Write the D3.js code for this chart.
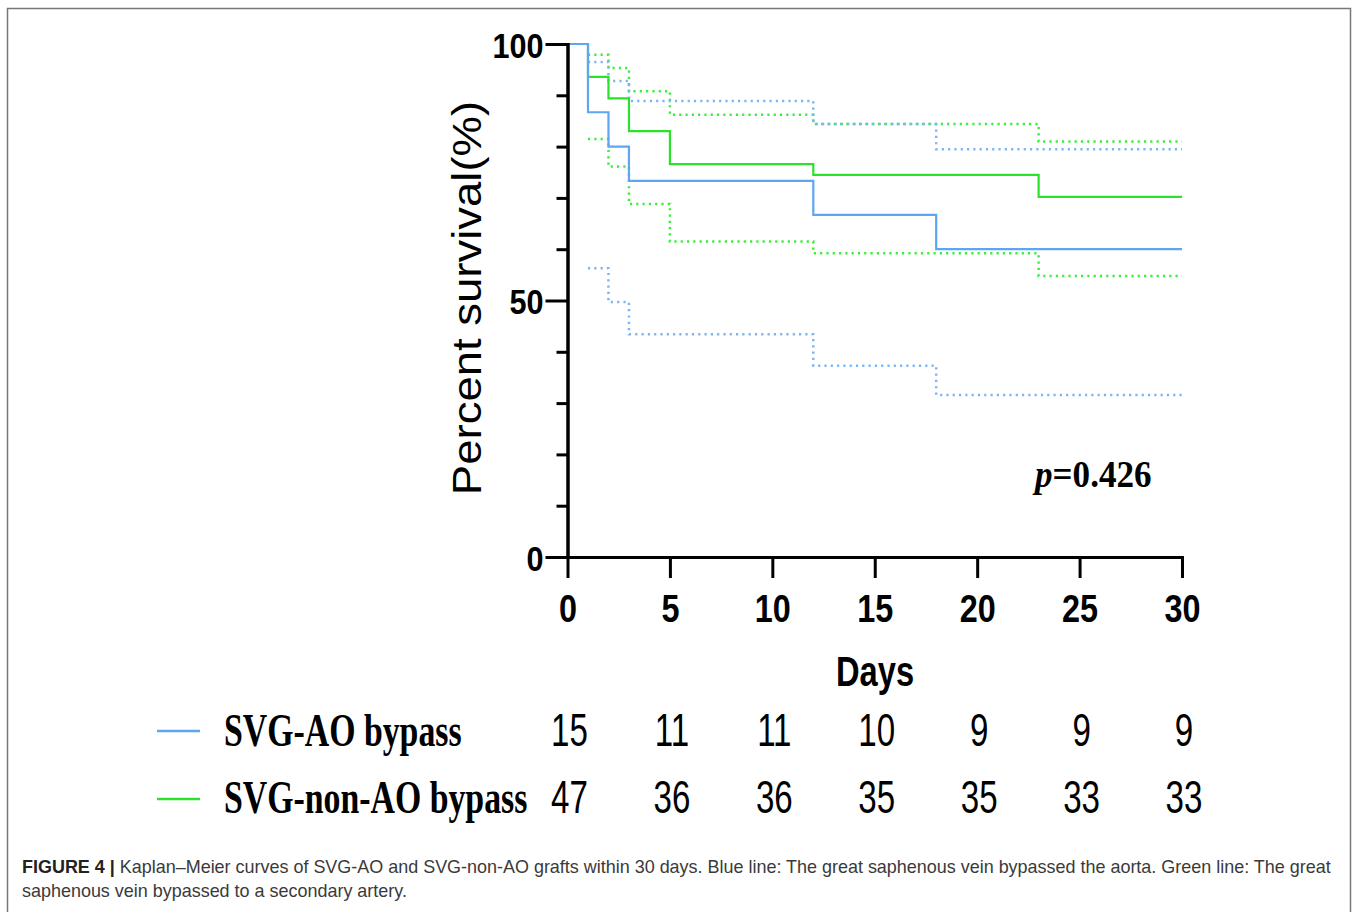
<!DOCTYPE html>
<html>
<head>
<meta charset="utf-8">
<script src="https://cdn.jsdelivr.net/npm/d3@7"></script>
<style>
body { margin: 0; background: #fff; }
svg { display: block; }
</style>
</head>
<body>
<div id="chart"></div>
<script>
// Kaplan-Meier steps (percent survival)
var aoTime = [0, 1, 2, 3, 12, 18, 30];
var aoSurv = [100, 86.7, 80.0, 73.3, 66.7, 60.0, 60.0];
var aoCiTime = [1, 2, 3, 12, 18, 30];
var aoUpper = [96.5, 92.8, 88.9, 84.4, 79.5, 79.5];
var aoLower = [56.3, 49.7, 43.4, 37.3, 31.6, 31.6];

var nonAoTime = [0, 1, 2, 3, 5, 12, 23, 30];
var nonAoSurv = [100, 93.6, 89.4, 83.0, 76.6, 74.5, 70.2, 70.2];
var nonAoCiTime = [1, 2, 3, 5, 12, 23, 30];
var nonAoUpper = [97.9, 95.3, 90.8, 86.2, 84.4, 81.0, 81.0];
var nonAoLower = [81.5, 76.1, 68.8, 61.5, 59.2, 54.8, 54.8];

var xTicks = [0, 5, 10, 15, 20, 25, 30];
var yMajor = [0, 50, 100];
var yMinor = [10, 20, 30, 40, 60, 70, 80, 90];

var riskDays = [0, 5, 10, 15, 20, 25, 30];
var riskAO = [15, 11, 11, 10, 9, 9, 9];
var riskNonAO = [47, 36, 36, 35, 35, 33, 33];

var seriesNames = ["SVG-AO bypass", "SVG-non-AO bypass"];
var pText = "0.426";

var caption1 = "Kaplan\u2013Meier curves of SVG-AO and SVG-non-AO grafts within 30 days. Blue line: The great saphenous vein bypassed the aorta. Green line: The great";
var caption2 = "saphenous vein bypassed to a secondary artery.";

var W = 1358, H = 912;
var blue = "#5ea6f2", blueDot = "#7db5f2";
var green = "#2be22b", greenDot = "#3ded3d";
var sans = "'Liberation Sans', Arial, sans-serif";
var serif = "'Liberation Serif', 'Times New Roman', serif";

var svg = d3.select("#chart").append("svg").attr("width", W).attr("height", H);

// figure frame
svg.append("path")
	.attr("d", "M7.5," + (H + 2) + " V8.5 H1350.5 V" + (H + 2))
	.attr("fill", "none").attr("stroke", "#777").attr("stroke-width", 1.5);

var x = d3.scaleLinear().domain([0, 30]).range([567.5, 1182]);
var y = d3.scaleLinear().domain([0, 100]).range([557, 44]);

function pts(t, v) {
	return t.map(function(d, i) { return [d, v[i]]; });
}
var line = d3.line()
	.x(function(d) { return x(d[0]); })
	.y(function(d) { return y(d[1]); })
	.curve(d3.curveStepAfter);

var curves = [
	{ p: pts(nonAoCiTime, nonAoUpper), c: greenDot, dot: true },
	{ p: pts(nonAoCiTime, nonAoLower), c: greenDot, dot: true },
	{ p: pts(aoCiTime, aoUpper), c: blueDot, dot: true },
	{ p: pts(aoCiTime, aoLower), c: blueDot, dot: true },
	{ p: pts(nonAoTime, nonAoSurv), c: green, dot: false },
	{ p: pts(aoTime, aoSurv), c: blue, dot: false }
];

svg.append("g").selectAll("path")
	.data(curves).enter()
	.append("path")
	.attr("d", function(d) { return line(d.p); })
	.attr("fill", "none")
	.attr("stroke", function(d) { return d.c; })
	.attr("stroke-width", function(d) { return d.dot ? 2.5 : 2.2; })
	.attr("stroke-dasharray", function(d) { return d.dot ? "2.2,4.1" : null; });

// axes
var yAxis = d3.axisLeft(y).tickValues(yMajor).tickSize(22).tickSizeOuter(0);
var yAxisMinor = d3.axisLeft(y).tickValues(yMinor).tickSize(11).tickFormat("");
var xAxis = d3.axisBottom(x).tickValues(xTicks).tickSize(21).tickSizeOuter(0);

var gy = svg.append("g").attr("transform", "translate(567.5,0)").call(yAxis);
var gym = svg.append("g").attr("transform", "translate(567.5,0)").call(yAxisMinor);
var gx = svg.append("g").attr("transform", "translate(0,557)").call(xAxis);

[gy, gym, gx].forEach(function(g) {
	g.selectAll("path, line").attr("stroke", "#000").attr("stroke-width", 3);
	g.select(".domain").attr("stroke-linecap", "square");
});

gy.selectAll("text")
	.attr("x", null).attr("dy", null)
	.attr("transform", "translate(-24,13) scale(0.85,1)")
	.attr("font-family", sans).attr("font-weight", "bold")
	.attr("font-size", 36).attr("fill", "#000");

gx.selectAll("text")
	.attr("y", null).attr("dy", null)
	.attr("transform", "translate(0,65) scale(0.83,1)")
	.attr("font-family", sans).attr("font-weight", "bold")
	.attr("font-size", 39).attr("fill", "#000");

// axis titles
svg.append("text")
	.attr("transform", "translate(481,298) rotate(-90) scale(1,0.9)")
	.attr("text-anchor", "middle")
	.attr("font-family", sans).attr("font-size", 45.5)
	.text("Percent survival(%)");

svg.append("text")
	.attr("transform", "translate(875,686) scale(0.76,1)")
	.attr("text-anchor", "middle")
	.attr("font-family", sans).attr("font-weight", "bold").attr("font-size", 43)
	.text("Days");

var pLabel = svg.append("text")
	.attr("transform", "translate(1035,487) scale(0.95,1)")
	.attr("font-family", serif).attr("font-weight", "bold").attr("font-size", 37);
pLabel.append("tspan").attr("font-style", "italic").text("p");
pLabel.append("tspan").text("=" + pText);

// legend and numbers at risk
var rows = [
	{ name: seriesNames[0], c: blue, risk: riskAO, base: 746, ly: 731 },
	{ name: seriesNames[1], c: green, risk: riskNonAO, base: 813, ly: 799 }
];

rows.forEach(function(r) {
	svg.append("line")
		.attr("x1", 157).attr("x2", 200)
		.attr("y1", r.ly).attr("y2", r.ly)
		.attr("stroke", r.c).attr("stroke-width", 2.5);
	svg.append("text")
		.attr("transform", "translate(224," + r.base + ") scale(0.735,1)")
		.attr("font-family", serif).attr("font-weight", "bold").attr("font-size", 46)
		.text(r.name);
	svg.append("g").selectAll("text")
		.data(r.risk).enter()
		.append("text")
		.attr("transform", function(d, i) {
			return "translate(" + (x(riskDays[i]) + 2) + "," + r.base + ") scale(0.72,1)";
		})
		.attr("text-anchor", "middle")
		.attr("font-family", sans).attr("font-size", 46)
		.text(function(d) { return d; });
});

// caption
var cap = svg.append("g").attr("font-family", sans).attr("font-size", 17.5).attr("fill", "#3a3a3a");
var c1 = cap.append("text").attr("x", 0).attr("y", 0);
c1.append("tspan").attr("font-weight", "bold").attr("fill", "#222").text("FIGURE 4 | ");
c1.append("tspan").text(caption1);
var c2 = cap.append("text").attr("x", 0).attr("y", 0).text(caption2);

var w1 = c1.node().getComputedTextLength();
var s = 1310 / w1;
c1.attr("transform", "translate(22,873) scale(" + s + ",1)");
c2.attr("transform", "translate(22,897) scale(" + s + ",1)");
</script>
</body>
</html>
